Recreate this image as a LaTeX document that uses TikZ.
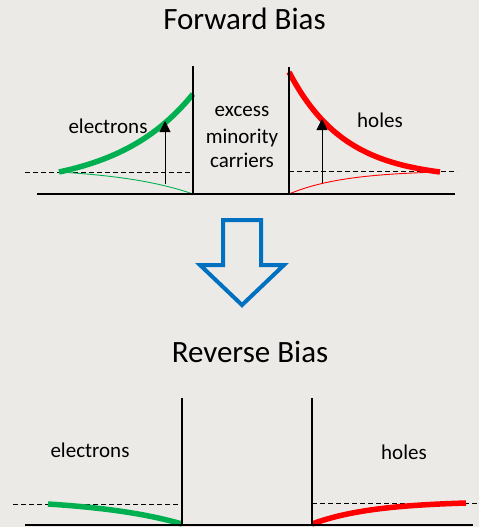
\documentclass[tikz,border=0pt]{standalone}
\usepackage{fontspec}
\setmainfont{Carlito}
\usepackage{tikz}
\usetikzlibrary{arrows.meta}
\definecolor{bggray}{RGB}{236,234,231}
\definecolor{ngreen}{RGB}{0,176,80}
\definecolor{pred}{RGB}{255,0,0}
\definecolor{arrowblue}{RGB}{0,112,192}

\begin{document}
\begin{tikzpicture}[x=1pt,y=-1pt,
    axis/.style={line width=2.8pt},
    level/.style={dash pattern=on 5pt off 3pt, line width=0.8pt},
    hi/.style={line width=5.5pt},
    lo/.style={line width=0.9pt},
    lift/.style={-{Triangle[length=11pt,width=11pt]}, line width=0.8pt},
    lbl/.style={font=\fontsize{21}{25}\selectfont, anchor=base, inner sep=0pt},
    ttl/.style={font=\fontsize{31}{37}\selectfont, anchor=base, inner sep=0pt}]
    \fill[bggray] (0,0) rectangle (479,527);
    \useasboundingbox (0,0) rectangle (479,527);

    \node[ttl] (fwd) at (244.5,30) {Forward Bias};
    \draw[level] (25,172) -- (193,172);
    \draw[level] (289,171) -- (457,171);
    \draw[hi, ngreen] plot[domain=0:1, samples=40, smooth] ({59+134*\x}, {172-78*(exp(1.75*\x)-1)/(exp(1.75)-1)});
    \draw[lo, ngreen] plot[domain=0:1, samples=40, smooth] ({59+134*\x}, {172+22*(exp(1.75*\x)-1)/(exp(1.75)-1)});
    \draw[hi, pred] plot[domain=0:1, samples=40, smooth] ({289+151*\x}, {172-100*(exp(2.7*(1-\x))-1)/(exp(2.7)-1)});
    \draw[lo, pred] plot[domain=0:1, samples=40, smooth] ({289+151*\x}, {172+22*(exp(2.7*(1-\x))-1)/(exp(2.7)-1)});
    \draw[axis] (37,194) -- (455,194);
    \draw[axis] (193,66) -- (193,194);
    \draw[axis] (289,67) -- (289,194);
    \coordinate (eb) at (165,184);
    \coordinate (et) at (165,121);
    \coordinate (hb) at (322,183);
    \coordinate (ht) at (322,119);
    \draw[lift] (eb) -- (et);
    \draw[lift] (hb) -- (ht);
    \node[lbl] (eF) at (108,133) {electrons};
    \node[lbl] (hF) at (380,127) {holes};
    \node[lbl] (ex1) at (242,116) {excess};
    \node[lbl] (ex2) at (242,143) {minority};
    \node[lbl] (ex3) at (242,167) {carriers};

    \draw[line width=4pt, arrowblue, line join=miter] (223,220) -- (261,220) -- (261,265) -- (284,265) -- (242,305) -- (200,265) -- (223,265) -- cycle;

    \node[ttl] (rev) at (250,362) {Reverse Bias};
    \draw[level] (13,504) -- (182,504);
    \draw[level] (312,503) -- (479,503);
    \draw[hi, ngreen] plot[domain=0:1, samples=40, smooth] ({48+134*\x}, {504+20*(exp(1.5*\x)-1)/(exp(1.5)-1)});
    \draw[hi, pred] plot[domain=0:1, samples=40, smooth] ({312+154*\x}, {503+21*(exp(2.5*(1-\x))-1)/(exp(2.5)-1)});
    \draw[axis] (25,525) -- (473,525);
    \draw[axis] (182,398) -- (182,525);
    \draw[axis] (312,398) -- (312,525);
    \node[lbl] (eR) at (90,457) {electrons};
    \node[lbl] (hR) at (404,459) {holes};
\end{tikzpicture}
\end{document}
